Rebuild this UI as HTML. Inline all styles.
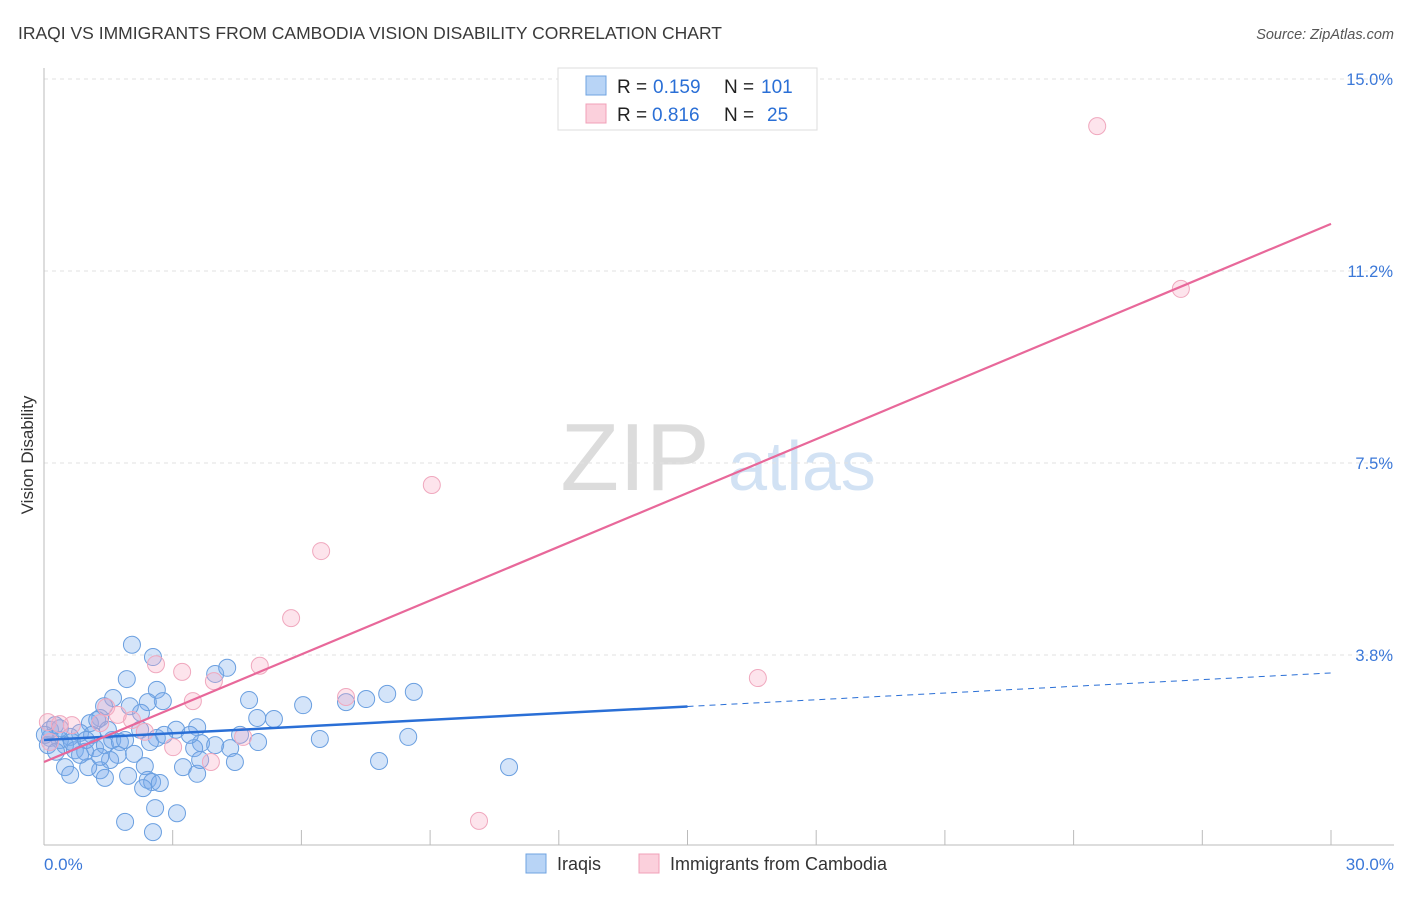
<!DOCTYPE html>
<html><head><meta charset="utf-8"><style>
body{margin:0;background:#fff;font-family:"Liberation Sans",sans-serif}
svg text{font-family:"Liberation Sans",sans-serif}
</style></head><body>
<svg id="chart" width="1406" height="892" xmlns="http://www.w3.org/2000/svg">
<text x="18" y="39" font-size="17.5" fill="#3a3a3a">IRAQI VS IMMIGRANTS FROM CAMBODIA VISION DISABILITY CORRELATION CHART</text>
<text x="1394" y="39" font-size="14.5" fill="#555" text-anchor="end" font-style="italic">Source: ZipAtlas.com</text>
<text transform="translate(33,455) rotate(-90)" font-size="17" fill="#333" text-anchor="middle">Vision Disability</text>
<g>
<text x="635" y="490" font-size="96" fill="#dcdcdc" text-anchor="middle" font-family="Liberation Serif">ZIP</text>
<text x="802" y="490" font-size="70" fill="#d2e2f4" text-anchor="middle">atlas</text>
</g>
<g id="grid"></g><g id="axes"></g><g id="pts"></g><g id="lines"></g>
<g>
<rect x="558" y="68" width="259" height="62" fill="#fff" stroke="#ddd"/>
<rect x="586" y="76" width="20" height="19" fill="#b8d4f6" stroke="#6fa3e0"/>
<rect x="586" y="104" width="20" height="19" fill="#fbd0dc" stroke="#f0a0b8"/>
<text x="617" y="93" font-size="19" fill="#222">R =</text>
<text x="653" y="93" font-size="19" fill="#2a6fd6">0.159</text>
<text x="724" y="93" font-size="19" fill="#222">N =</text>
<text x="761" y="93" font-size="19" fill="#2a6fd6">101</text>
<text x="617" y="121" font-size="19" fill="#222">R =</text>
<text x="652" y="121" font-size="19" fill="#2a6fd6">0.816</text>
<text x="724" y="121" font-size="19" fill="#222">N =</text>
<text x="767" y="121" font-size="19" fill="#2a6fd6">25</text>
</g>
<g>
<rect x="526" y="854" width="20" height="19" fill="#b8d4f6" stroke="#6fa3e0"/>
<text x="557" y="870" font-size="18" fill="#333">Iraqis</text>
<rect x="639" y="854" width="20" height="19" fill="#fbd0dc" stroke="#f0a0b8"/>
<text x="670" y="870" font-size="18" fill="#333">Immigrants from Cambodia</text>
</g>
</svg>
<script>
const yTicks=[15.0,11.25,7.5,3.75];
const yTickLabels=["15.0%","11.2%","7.5%","3.8%"];
const xTickLabels=["0.0%","30.0%"];
const iraqiX=[2.05,2.54,1.93,2.63,3.99,4.27,4.78,6.04,7.04,7.51,8.00,8.62,8.49,7.81,10.84,6.43,4.97,5.36,4.99,4.34,4.45,3.66,3.57,3.50,3.24,3.57,3.08,2.77,2.42,2.26,2.63,2.00,1.61,1.40,1.31,1.07,0.84,0.61,0.37,0.14,0.14,0.26,0.49,0.72,0.96,1.19,1.42,1.59,1.77,1.72,1.54,1.31,1.03,0.84,0.49,0.61,1.42,1.96,2.10,2.35,2.42,2.52,2.70,2.31,2.59,1.89,2.54,3.10,0.09,1.12,0.37,0.65,1.31,1.89,2.24,2.47,0.98,1.24,1.49,0.28,0.02,2.80,3.99,3.40,4.57,3.64];
const iraqiY=[3.95,3.71,3.28,3.07,3.38,3.50,2.87,2.77,2.83,2.89,2.99,3.03,2.15,1.68,1.56,2.11,2.52,2.50,2.05,1.93,1.66,2.03,2.34,1.93,1.56,1.43,2.29,2.85,2.83,2.62,2.13,2.75,2.91,2.75,2.52,2.42,2.23,2.15,2.09,2.29,2.13,2.38,1.99,1.89,1.86,1.93,1.99,2.09,2.05,1.80,1.70,1.50,1.56,1.80,1.56,1.41,1.35,1.39,1.82,1.58,1.31,1.27,1.25,1.15,0.76,0.49,0.29,0.66,1.99,2.19,2.32,2.05,1.76,2.09,2.29,2.05,2.09,2.48,2.29,1.86,2.19,2.19,1.99,2.19,2.19,1.70];
const cambX=[24.55,26.50,9.04,6.46,5.76,2.61,3.22,5.03,3.96,3.47,7.04,16.64,10.14,3.89,3.01,4.64,2.35,2.05,1.45,1.72,1.31,0.65,0.37,0.09,0.14];
const cambY=[14.08,10.90,7.07,5.78,4.47,3.57,3.42,3.54,3.24,2.85,2.93,3.30,0.51,1.66,1.95,2.15,2.25,2.48,2.73,2.58,2.42,2.38,2.40,2.44,2.05];
const iraqiTrend=[2.09,3.40];
const cambTrend=[1.66,12.17];
const NS="http://www.w3.org/2000/svg";
const xs=v=>44+v/30*1287, ys=v=>847-v*51.2;
function mk(tag,attrs,parent){const e=document.createElementNS(NS,tag);for(const k in attrs)e.setAttribute(k,attrs[k]);document.getElementById(parent).appendChild(e);return e;}
yTicks.forEach((t,i)=>{
 const l=mk('line',{x1:44,x2:1394,y1:ys(t),y2:ys(t),stroke:'#e2e2e2','stroke-dasharray':'4,4'},'grid');
 
 
 const tx=mk('text',{x:1393,y:ys(t)+6,'font-size':16.5,fill:'#3b78d8','text-anchor':'end'},'grid');
 tx.textContent=yTickLabels[i];
 
 
});
const ax=mk('line',{x1:44,x2:44,y1:68,y2:845,stroke:'#bbb'},'axes');


const bx=mk('line',{x1:44,x2:1394,y1:845,y2:845,stroke:'#bbb'},'axes');


for(let i=0;i<=10;i++){const t=mk('line',{x1:xs(i*3),x2:xs(i*3),y1:830,y2:845,stroke:'#bbb'},'axes');
 
 }
[[0,'start',44],[30,'end',1394]].forEach((d,i)=>{const t=mk('text',{x:d[2],y:870,'font-size':17,fill:'#3b78d8','text-anchor':d[1]},'axes');t.textContent=xTickLabels[i];
 
 });
iraqiX.forEach((x,i)=>{const c=mk('circle',{cx:xs(x),cy:ys(iraqiY[i]),r:8.5,fill:'rgba(120,170,235,0.32)',stroke:'#6a9fe0','stroke-width':1},'pts');
 
 });
cambX.forEach((x,i)=>{const c=mk('circle',{cx:xs(x),cy:ys(cambY[i]),r:8.5,fill:'rgba(248,170,195,0.32)',stroke:'#f0a8be','stroke-width':1},'pts');
 
 });
const bmid=iraqiTrend[0]+(iraqiTrend[1]-iraqiTrend[0])*15/30;
const l1=mk('line',{x1:xs(0),y1:ys(iraqiTrend[0]),x2:xs(15),y2:ys(bmid),stroke:'#2a6fd6','stroke-width':2.5},'lines');


const l2=mk('line',{x1:xs(15),y1:ys(bmid),x2:xs(30),y2:ys(iraqiTrend[1]),stroke:'#2a6fd6','stroke-width':1,'stroke-dasharray':'6,5'},'lines');


const l3=mk('line',{x1:xs(0),y1:ys(cambTrend[0]),x2:xs(30),y2:ys(cambTrend[1]),stroke:'#e8689a','stroke-width':2.2},'lines');


</script>
</body></html>
